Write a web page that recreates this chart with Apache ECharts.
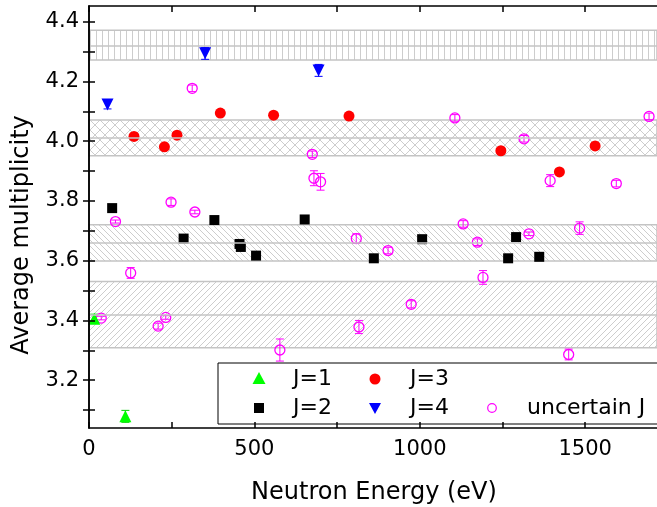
<!DOCTYPE html>
<html>
<head>
<meta charset="utf-8">
<script src="https://cdn.jsdelivr.net/npm/echarts@6/dist/echarts.min.js"></script>
<style>
  html, body { margin: 0; padding: 0; background: #fff; }
  #chart { width: 657px; height: 507px; }
</style>
</head>
<body>
<div id="chart"></div>
<script>
// J=1
var j1X = [16, 110];
var j1Y = [3.406, 3.079];
var j1Err = [0.015, 0.02];
// J=2
var j2X = [70, 286, 379, 455, 459, 505, 652, 861, 1007, 1267, 1291, 1361];
var j2Y = [3.776, 3.674, 3.736, 3.656, 3.646, 3.617, 3.738, 3.608, 3.672, 3.608, 3.679, 3.613];
// J=3
var j3X = [136, 228, 266, 397, 558, 786, 1245, 1422, 1530];
var j3Y = [4.016, 3.981, 4.02, 4.094, 4.087, 4.084, 3.968, 3.897, 3.984];
// J=4
var j4X = [56, 351, 694];
var j4Y = [4.123, 4.294, 4.237];
var j4Err = [0.015, 0.02, 0.02];
// uncertain J
var uX = [37, 80, 126, 209, 232, 248, 312, 320, 577, 675, 680, 700, 808, 816, 904, 974, 1106, 1131, 1174, 1191, 1315, 1330, 1394, 1450, 1483, 1594, 1693];
var uY = [3.408, 3.731, 3.559, 3.381, 3.41, 3.796, 4.177, 3.763, 3.301, 3.956, 3.876, 3.864, 3.674, 3.378, 3.634, 3.454, 4.078, 3.723, 3.662, 3.544, 4.008, 3.69, 3.868, 3.286, 3.709, 3.858, 4.083];
var uErr = [0.006, 0.005, 0.018, 0.01, 0.006, 0.011, 0.011, 0.006, 0.037, 0.011, 0.025, 0.028, 0.016, 0.022, 0.011, 0.012, 0.011, 0.011, 0.011, 0.023, 0.011, 0.006, 0.02, 0.018, 0.021, 0.011, 0.011];

// average bands
var bandLow = [4.272, 3.951, 3.599, 3.309];
var bandMid = [4.322, 4.010, 3.660, 3.418];
var bandHigh = [4.371, 4.071, 3.720, 3.530];
var bandHatch = ['vert', 'cross', 'back', 'fwd'];

// ticks
var xLabels = [0, 500, 1000, 1500];
var xTicks = [0, 250, 500, 750, 1000, 1250, 1500];
var yLabels = [3.2, 3.4, 3.6, 3.8, 4.0, 4.2, 4.4];
var yTicks = [3.1, 3.2, 3.3, 3.4, 3.5, 3.6, 3.7, 3.8, 3.9, 4.0, 4.1, 4.2, 4.3, 4.4];

var FONT = '"DejaVu Sans", sans-serif';
var GRAY = '#c4c4c4';
var HATCH = '#cdcdcd';

function hatch(kind) {
  var s = kind == 'cross' ? 10 : 6;
  var c = document.createElement('canvas');
  c.width = s; c.height = s;
  var ctx = c.getContext('2d');
  ctx.strokeStyle = HATCH;
  ctx.lineWidth = 1;
  ctx.beginPath();
  if (kind == 'vert') {
    ctx.moveTo(0.5, 0); ctx.lineTo(0.5, s);
  }
  if (kind == 'back' || kind == 'cross') {
    ctx.moveTo(-1, -1); ctx.lineTo(s + 1, s + 1);
    ctx.moveTo(-1, s - 1); ctx.lineTo(1, s + 1);
    ctx.moveTo(s - 1, -1); ctx.lineTo(s + 1, 1);
  }
  if (kind == 'fwd' || kind == 'cross') {
    ctx.moveTo(-1, s + 1); ctx.lineTo(s + 1, -1);
    ctx.moveTo(-1, 1); ctx.lineTo(1, -1);
    ctx.moveTo(s - 1, s + 1); ctx.lineTo(s + 1, s - 1);
  }
  ctx.stroke();
  return { image: c, repeat: 'repeat' };
}

function zip3(a, b, c) {
  return a.map(function (v, i) { return [v, b[i], c ? c[i] : 0]; });
}

function errBars(color) {
  return function (params, api) {
    var x = api.value(0), y = api.value(1), e = api.value(2);
    if (!e) return;
    var t = api.coord([x, y + e]);
    var b = api.coord([x, y - e]);
    var st = { stroke: color, lineWidth: 1 };
    return {
      type: 'group',
      children: [
        { type: 'line', shape: { x1: t[0], y1: t[1], x2: b[0], y2: b[1] }, style: st },
        { type: 'line', shape: { x1: t[0] - 4, y1: t[1], x2: t[0] + 4, y2: t[1] }, style: st },
        { type: 'line', shape: { x1: b[0] - 4, y1: b[1], x2: b[0] + 4, y2: b[1] }, style: st }
      ]
    };
  };
}

var areas = [];
for (var i = 0; i < bandLow.length; i++) {
  areas.push([
    { yAxis: bandLow[i], itemStyle: { color: hatch(bandHatch[i]), borderColor: GRAY, borderWidth: 1.5 } },
    { yAxis: bandHigh[i] }
  ]);
}

var chart = echarts.init(document.getElementById('chart'));

var option = {
  animation: false,
  grid: { left: 89, top: 6, right: -2, bottom: 79 },
  xAxis: [
    {
      type: 'value', min: 0, max: 1717, z: 10,
      axisLine: { lineStyle: { color: '#000', width: 1.5 } },
      axisTick: { inside: true, length: 6, customValues: xTicks, lineStyle: { color: '#000', width: 1.5 } },
      axisLabel: {
        customValues: xLabels, color: '#000', fontSize: 21, fontFamily: FONT, margin: 11,
        formatter: function (v) { return String(v); }
      },
      splitLine: { show: false }
    },
    {
      type: 'value', position: 'top', min: 0, max: 1717, z: 10,
      axisLine: { lineStyle: { color: '#000', width: 1.5 } },
      axisTick: { inside: true, length: 6, customValues: xTicks, lineStyle: { color: '#000', width: 1.5 } },
      axisLabel: { show: false },
      splitLine: { show: false }
    }
  ],
  yAxis: [
    {
      type: 'value', min: 3.04, max: 4.4525, z: 10,
      axisLine: { lineStyle: { color: '#000', width: 1.5 } },
      axisTick: { inside: true, length: 6, customValues: yTicks, lineStyle: { color: '#000', width: 1.5 } },
      axisLabel: {
        customValues: yLabels, color: '#000', fontSize: 21, fontFamily: FONT, margin: 10,
        formatter: function (v) { return v.toFixed(1); }
      },
      splitLine: { show: false }
    },
    {
      type: 'value', position: 'right', min: 3.04, max: 4.4525, z: 10,
      axisLine: { lineStyle: { color: '#000', width: 1.5 } },
      axisTick: { inside: true, length: 6, customValues: yTicks, lineStyle: { color: '#000', width: 1.5 } },
      axisLabel: { show: false },
      splitLine: { show: false }
    }
  ],
  series: [
    {
      name: 'bands', type: 'line', data: [], z: 1,
      markArea: { silent: true, data: areas },
      markLine: {
        silent: true, symbol: 'none', label: { show: false },
        lineStyle: { color: GRAY, type: 'solid', width: 1.5 },
        data: bandMid.map(function (v) { return { yAxis: v }; })
      }
    },
    { type: 'custom', renderItem: errBars('#ff00ff'), data: zip3(uX, uY, uErr), encode: { x: 0, y: 1 }, z: 3 },
    { type: 'custom', renderItem: errBars('#0000ff'), data: zip3(j4X, j4Y, j4Err), encode: { x: 0, y: 1 }, z: 3 },
    { type: 'custom', renderItem: errBars('#00d000'), data: zip3(j1X, j1Y, j1Err), encode: { x: 0, y: 1 }, z: 3 },
    {
      name: 'uncertain J', type: 'scatter', symbol: 'circle', symbolSize: 10, z: 4,
      itemStyle: { color: 'rgba(0,0,0,0)', borderColor: '#ff00ff', borderWidth: 1.3, opacity: 1 },
      data: uX.map(function (x, i) { return [x, uY[i]]; })
    },
    {
      name: 'J=2', type: 'scatter', symbol: 'rect', symbolSize: 10, z: 4,
      itemStyle: { color: '#000', opacity: 1 },
      data: j2X.map(function (x, i) { return [x, j2Y[i]]; })
    },
    {
      name: 'J=3', type: 'scatter', symbol: 'circle', symbolSize: 11, z: 4,
      itemStyle: { color: '#ff0000', opacity: 1 },
      data: j3X.map(function (x, i) { return [x, j3Y[i]]; })
    },
    {
      name: 'J=4', type: 'scatter', symbol: 'triangle', symbolRotate: 180, symbolSize: 12, z: 4,
      itemStyle: { color: '#0000ff', opacity: 1 },
      data: j4X.map(function (x, i) { return [x, j4Y[i]]; })
    },
    {
      name: 'J=1', type: 'scatter', symbol: 'triangle', symbolSize: 12, z: 4,
      itemStyle: { color: '#00ff00', opacity: 1 },
      data: j1X.map(function (x, i) { return [x, j1Y[i]]; })
    }
  ],
  graphic: [
    {
      type: 'text', x: 22, y: 235, rotation: Math.PI / 2, z: 20,
      style: { text: 'Average multiplicity', fill: '#000', font: '24px ' + FONT, align: 'center', verticalAlign: 'middle' }
    },
    {
      type: 'text', x: 374, y: 493, z: 20,
      style: { text: 'Neutron Energy (eV)', fill: '#000', font: '24px ' + FONT, align: 'center', verticalAlign: 'middle' }
    },
    {
      type: 'group', z: 20,
      children: [
        { type: 'rect', shape: { x: 218, y: 363, width: 460, height: 61 }, style: { fill: '#fff', stroke: '#000', lineWidth: 1 } },
        { type: 'polygon', shape: { points: [[259, 372], [265.5, 384], [252.5, 384]] }, style: { fill: '#00ff00' } },
        { type: 'text', x: 293, y: 379, style: { text: 'J=1', fill: '#000', font: '22px ' + FONT, verticalAlign: 'middle' } },
        { type: 'circle', shape: { cx: 375, cy: 379, r: 5.5 }, style: { fill: '#ff0000' } },
        { type: 'text', x: 410, y: 379, style: { text: 'J=3', fill: '#000', font: '22px ' + FONT, verticalAlign: 'middle' } },
        { type: 'rect', shape: { x: 254, y: 403, width: 10, height: 10 }, style: { fill: '#000' } },
        { type: 'text', x: 293, y: 408, style: { text: 'J=2', fill: '#000', font: '22px ' + FONT, verticalAlign: 'middle' } },
        { type: 'polygon', shape: { points: [[369, 403], [381, 403], [375, 414]] }, style: { fill: '#0000ff' } },
        { type: 'text', x: 410, y: 408, style: { text: 'J=4', fill: '#000', font: '22px ' + FONT, verticalAlign: 'middle' } },
        { type: 'circle', shape: { cx: 492, cy: 408, r: 4.3 }, style: { fill: 'none', stroke: '#ff00ff', lineWidth: 1.2 } },
        { type: 'text', x: 527, y: 408, style: { text: 'uncertain J', fill: '#000', font: '22px ' + FONT, verticalAlign: 'middle' } }
      ]
    }
  ]
};

chart.setOption(option);
</script>
</body>
</html>
